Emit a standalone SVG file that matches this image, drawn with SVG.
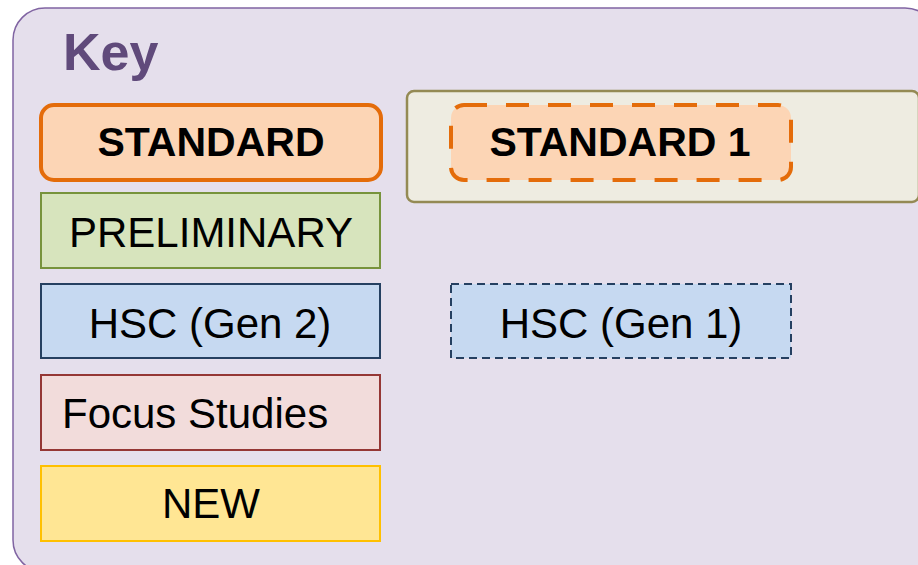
<svg xmlns="http://www.w3.org/2000/svg" width="918" height="565" viewBox="0 0 918 565">
<style>
.t{font-family:"Liberation Sans",Arial,sans-serif;font-size:42px;fill:#000;text-anchor:middle}
.b{font-weight:bold;font-size:41px}
.box{stroke-width:2}
</style>
<rect width="918" height="565" fill="#ffffff"/>
<g id="frame">
<rect x="13" y="8" width="924" height="564" rx="32" fill="#e5dfec" stroke="#8064a2" stroke-width="1.5"/>
<text x="63" y="70" style="font-family:'Liberation Sans',Arial,sans-serif;font-size:52px;font-weight:bold;fill:#604a7b">Key</text>
</g>
<g id="group1">
<rect x="407" y="91" width="512" height="111" rx="7" fill="#eeece1" stroke="#948a54" stroke-width="2.5"/>
</g>
<g id="standard">
<rect x="41" y="105" width="340" height="75" rx="13" fill="#fcd5b5" stroke="#e46c0a" stroke-width="4"/>
<text class="t b" x="211" y="156">STANDARD</text>
</g>
<g id="standard1">
<rect x="451" y="105" width="340" height="75" rx="13" fill="#fcd5b5" stroke="#e46c0a" stroke-width="4" stroke-dasharray="23 19"/>
<text class="t b" x="620" y="156">STANDARD 1</text>
</g>
<g id="preliminary">
<rect x="41" y="193" width="339" height="75" fill="#d7e4bd" stroke="#77933c" class="box"/>
<text class="t" x="211" y="247">PRELIMINARY</text>
</g>
<g id="hscgen2">
<rect x="41" y="284" width="339" height="74" fill="#c6d9f1" stroke="#254061" class="box"/>
<text class="t" x="210" y="338">HSC (Gen 2)</text>
</g>
<g id="hscgen1">
<rect x="451" y="284" width="340" height="74" fill="#c6d9f1" stroke="#254061" class="box" stroke-dasharray="8 5"/>
<text class="t" x="621" y="338">HSC (Gen 1)</text>
</g>
<g id="focus">
<rect x="41" y="375" width="339" height="75" fill="#f2dcdb" stroke="#953735" class="box"/>
<text class="t" x="62" y="428" style="text-anchor:start">Focus Studies</text>
</g>
<g id="new">
<rect x="41" y="466" width="339" height="75" fill="#ffe694" stroke="#ffc000" class="box"/>
<text class="t" x="211" y="518">NEW</text>
</g>
<g id="connectors"/>
</svg>
